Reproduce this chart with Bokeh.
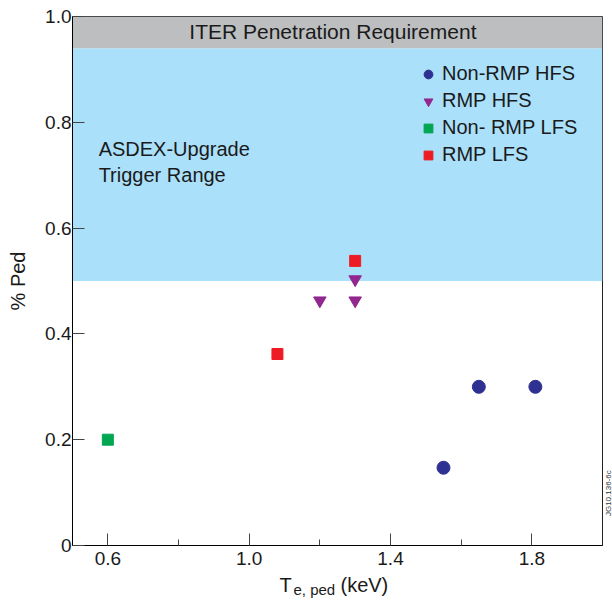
import math
from bokeh.plotting import figure
from bokeh.layouts import column, row
from bokeh.models import (BoxAnnotation, Label, Legend, LegendItem, FixedTicker,
                          Range1d)
from bokeh.embed import file_html
from bokeh.resources import INLINE

# ---- data ----
nonrmp_hfs_x = [1.55, 1.65, 1.81]
nonrmp_hfs_y = [0.147, 0.30, 0.30]
rmp_hfs_x = [1.20, 1.30, 1.30]
rmp_hfs_y = [0.463, 0.463, 0.503]
nonrmp_lfs_x = [0.60]
nonrmp_lfs_y = [0.20]
rmp_lfs_x = [1.08, 1.30]
rmp_lfs_y = [0.362, 0.538]

iter_band = [0.94, 1.0]
asdex_band = [0.5, 0.94]

x_ticks = [0.6, 1.0, 1.4, 1.8]
x_tick_labels = ["0.6", "1.0", "1.4", "1.8"]
x_minor = [0.8, 1.2, 1.6]
y_ticks = [0.0, 0.2, 0.4, 0.6, 0.8, 1.0]
y_tick_labels = ["0", "0.2", "0.4", "0.6", "0.8", "1.0"]

FONT = "Liberation Sans"
TXT = "#1a1a1a"

p = figure(width=603, height=575, output_backend="svg", toolbar_location=None,
           x_range=Range1d(0.5, 2.0), y_range=Range1d(0.0, 1.0),
           min_border_left=72, min_border_right=1, min_border_top=16,
           min_border_bottom=30)
p.grid.visible = False
p.outline_line_color = "#222222"
p.outline_line_width = 1
p.background_fill_color = "white"
p.border_fill_color = "white"

# bands
p.add_layout(BoxAnnotation(bottom=asdex_band[0], top=asdex_band[1],
                           fill_color="#ABE0FA", fill_alpha=1.0, line_color=None,
                           level="underlay"))
p.add_layout(BoxAnnotation(bottom=iter_band[0], top=iter_band[1],
                           fill_color="#BCBEC0", fill_alpha=1.0, line_color=None,
                           level="underlay"))

# axes
xa = p.xaxis[0]
xa.ticker = FixedTicker(ticks=x_ticks, minor_ticks=x_minor)
xa.major_label_overrides = {t: l for t, l in zip(x_ticks, x_tick_labels)}
ya = p.yaxis[0]
ya.ticker = FixedTicker(ticks=y_ticks, minor_ticks=[])
ya.major_label_overrides = {t: l for t, l in zip(y_ticks, y_tick_labels)}

for ax in (xa, ya):
    ax.axis_line_color = "black"
    ax.axis_line_width = 1
    ax.major_tick_in = 12
    ax.major_tick_out = 0
    ax.minor_tick_in = 6
    ax.minor_tick_out = 0
    ax.major_tick_line_color = "#444444"
    ax.minor_tick_line_color = "#444444"
    ax.major_label_text_font = FONT
    ax.major_label_text_font_size = "19px"
    ax.major_label_text_color = TXT
xa.major_label_standoff = 6
ya.major_label_standoff = 1
ya.axis_label = "% Ped"
ya.axis_label_text_font = FONT
ya.axis_label_text_font_size = "20px"
ya.axis_label_text_font_style = "normal"
ya.axis_label_text_color = TXT
ya.axis_label_standoff = 13

# data
r1 = p.scatter(nonrmp_hfs_x, nonrmp_hfs_y, marker="circle", size=13,
               fill_color="#2E3192", line_color="#2E3192")
r2 = p.scatter(rmp_hfs_x, rmp_hfs_y, marker="inverted_triangle", size=12.5,
               fill_color="#92278F", line_color="#92278F")
r3 = p.scatter(nonrmp_lfs_x, nonrmp_lfs_y, marker="square", size=11,
               fill_color="#00A651", line_color="#00A651")
r4 = p.scatter(rmp_lfs_x, rmp_lfs_y, marker="square", size=11,
               fill_color="#ED1C24", line_color="#ED1C24")

legend = Legend(items=[LegendItem(label="Non-RMP HFS", renderers=[r1]),
                       LegendItem(label="RMP HFS", renderers=[r2]),
                       LegendItem(label="Non- RMP LFS", renderers=[r3]),
                       LegendItem(label="RMP LFS", renderers=[r4])],
                location=(345, 379), padding=0, spacing=4,
                glyph_width=22, glyph_height=22, label_height=22,
                label_standoff=3, border_line_color=None,
                background_fill_alpha=0.0,
                label_text_font=FONT, label_text_font_size="20px",
                label_text_color=TXT)
p.add_layout(legend)

# texts
p.add_layout(Label(x=1.237, y=0.972, text="ITER Penetration Requirement",
                   text_align="center", text_baseline="middle",
                   text_font=FONT, text_font_size="21px", text_color=TXT))
p.add_layout(Label(x=0.574, y=0.749, text="ASDEX-Upgrade",
                   text_align="left", text_baseline="alphabetic",
                   text_font=FONT, text_font_size="20px", text_color=TXT))
p.add_layout(Label(x=0.574, y=0.700, text="Trigger Range",
                   text_align="left", text_baseline="alphabetic",
                   text_font=FONT, text_font_size="20px", text_color=TXT))

# right strip with the figure code
p3 = figure(width=9, height=575, output_backend="svg", toolbar_location=None,
            x_range=Range1d(0, 9), y_range=Range1d(575, 0),
            x_axis_location=None, y_axis_location=None, min_border=0)
p3.grid.visible = False
p3.outline_line_color = None
p3.add_layout(Label(x=4.5, y=543, text="JG10.136-6c", angle=math.pi / 2,
                    text_align="left", text_baseline="middle", text_font=FONT,
                    text_font_size="8px", text_color="#333333"))

# bottom strip with the x-axis title (T with subscript e, ped)
p2 = figure(width=612, height=25, output_backend="svg", toolbar_location=None,
            x_range=Range1d(0, 612), y_range=Range1d(25, 0),
            x_axis_location=None, y_axis_location=None, min_border=0)
p2.grid.visible = False
p2.outline_line_color = None
p2.add_layout(Label(x=279, y=9, text="T", text_align="left",
                    text_baseline="alphabetic", text_font=FONT,
                    text_font_size="20px", text_color=TXT))
p2.add_layout(Label(x=293, y=14, text="e, ped", text_align="left",
                    text_baseline="alphabetic", text_font=FONT,
                    text_font_size="15px", text_color=TXT))
p2.add_layout(Label(x=340, y=9, text="(keV)", text_align="left",
                    text_baseline="alphabetic", text_font=FONT,
                    text_font_size="20px", text_color=TXT))

layout = column(row(p, p3), p2)
open("out.html", "w").write(file_html(layout, INLINE))
